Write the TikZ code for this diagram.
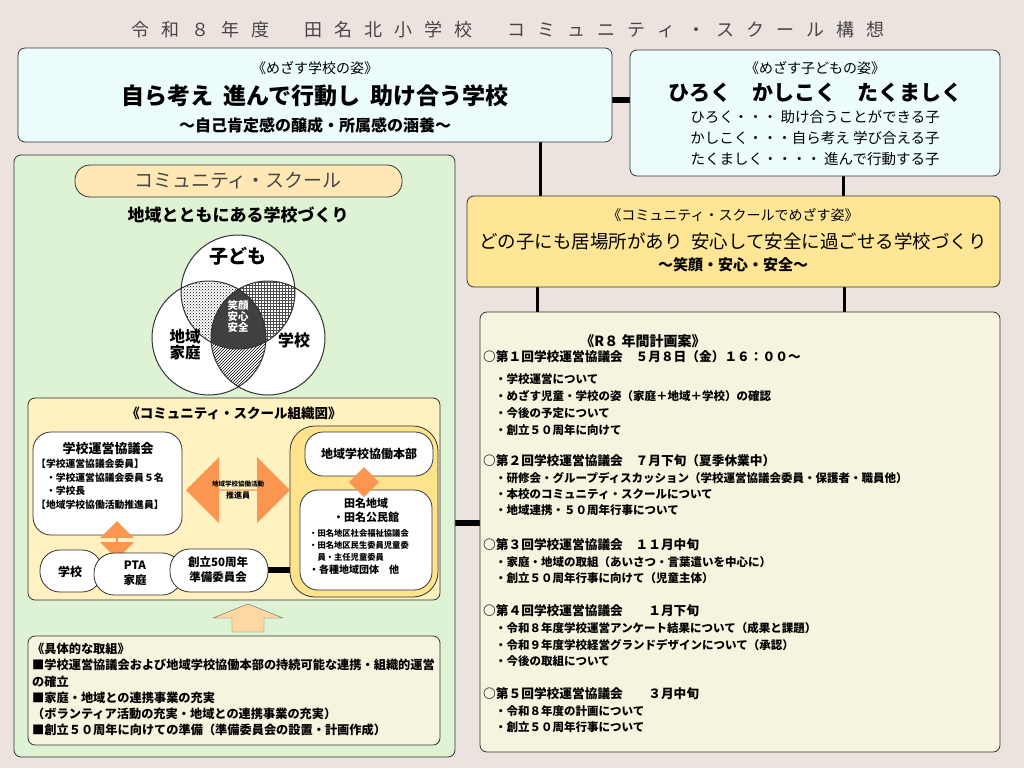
\documentclass[tikz,border=0pt]{standalone}
\usepackage{fontspec}
\setmainfont{Noto Sans CJK JP}
\usetikzlibrary{patterns,shapes.arrows,calc}
\definecolor{BackClr}{RGB}{236,226,222}
\definecolor{CyanClr}{RGB}{236,252,252}
\definecolor{GoldClr}{RGB}{255,230,150}
\definecolor{CreamClr}{RGB}{246,244,222}
\definecolor{GreenClr}{RGB}{222,242,212}
\definecolor{PillClr}{RGB}{255,232,182}
\definecolor{OrgClr}{RGB}{255,241,192}
\definecolor{DeepClr}{RGB}{255,226,140}
\definecolor{ArrowClr}{RGB}{250,150,80}
\definecolor{TitleClr}{RGB}{70,70,70}
\newcommand{\tgap}{\hspace{0.66em}}
\tikzset{
  panel/.style={draw=black!80,line width=0.8pt,rounded corners=7pt},
  bubble/.style={draw=black!80,line width=0.8pt,fill=white,rounded corners=18pt},
  link/.style={line width=3pt},
  bar/.style={line width=6pt},
  planline/.style={anchor=west,font=\bfseries\fontsize{11.5}{13}\selectfont,inner sep=0pt},
}
\begin{document}
\begin{tikzpicture}[x=1pt,y=-1pt]
\fill[BackClr] (0,0) rectangle (1024,768);

% title
\node[font=\fontsize{18}{20}\selectfont,text=TitleClr] (title) at (508,30) {令\tgap 和\tgap ８\tgap 年\tgap 度\tgap\tgap\tgap 田\tgap 名\tgap 北\tgap 小\tgap 学\tgap 校\tgap\tgap\tgap コ\tgap ミ\tgap ュ\tgap ニ\tgap テ\tgap ィ\tgap ・\tgap ス\tgap ク\tgap ー\tgap ル\tgap 構\tgap 想};

% connectors
\draw[bar] (612,100) -- (630,100);
\draw[link] (540,142) -- (540,196);
\draw[link] (843,176) -- (843,196);
\draw[link] (537,287) -- (537,312);
\draw[link] (844,287) -- (844,312);
\draw[bar] (455,523) -- (480,523);

% school goal
\draw[panel,fill=CyanClr] (18,48) rectangle (612,142);
\node[font=\fontsize{14}{16}\selectfont] at (315,68) {《めざす学校の姿》};
\node[font=\bfseries\fontsize{23}{26}\selectfont] at (315,96) {自ら考え\ \ 進んで行動し\ \ 助け合う学校};
\node[font=\bfseries\fontsize{16}{18}\selectfont] at (315,125) {～自己肯定感の醸成・所属感の涵養～};

% child goal
\draw[panel,fill=CyanClr] (630,50) rectangle (1000,176);
\node[font=\fontsize{14}{16}\selectfont] at (815,68) {《めざす子どもの姿》};
\node[font=\bfseries\fontsize{21}{24}\selectfont] at (815,93) {ひろく　かしこく　たくましく};
\node[font=\fontsize{14.5}{16}\selectfont] at (815,117) {ひろく・・・ 助け合うことができる子};
\node[font=\fontsize{14.5}{16}\selectfont] at (815,138) {かしこく・・・自ら考え 学び合える子};
\node[font=\fontsize{14.5}{16}\selectfont] at (815,159) {たくましく・・・・ 進んで行動する子};

% community school goal
\draw[panel,fill=GoldClr] (467,196) rectangle (1000,287);
\node[font=\fontsize{14}{16}\selectfont] at (733,215) {《コミュニティ・スクールでめざす姿》};
\node[font=\fontsize{18.5}{21}\selectfont] at (733,241) {どの子にも居場所があり\ \ 安心して安全に過ごせる学校づくり};
\node[font=\bfseries\fontsize{15}{17}\selectfont] at (733,265) {～笑顔・安心・安全～};

% annual plan
\draw[panel,fill=CreamClr] (480,312) rectangle (1000,752);
\node[font=\bfseries\fontsize{14}{16}\selectfont] at (643,341) {《R８ 年間計画案》};
\foreach \y/\t in {357/○第１回学校運営協議会　５月８日（金）１６：００～,
  461/○第２回学校運営協議会　７月下旬（夏季休業中）,
  545/○第３回学校運営協議会　１１月中旬,
  611/○第４回学校運営協議会　　１月下旬,
  694/○第５回学校運営協議会　　３月中旬}
  \node[planline,font=\bfseries\fontsize{12.7}{14}\selectfont] at (483,\y) {\t};
\foreach \y/\t in {379/・学校運営について, 396/・めざす児童・学校の姿（家庭＋地域＋学校）の確認,
  413/・今後の予定について, 430/・創立５０周年に向けて,
  478/・研修会・グループディスカッション（学校運営協議会委員・保護者・職員他）,
  494/・本校のコミュニティ・スクールについて, 510/・地域連携・５０周年行事について,
  562/・家庭・地域の取組（あいさつ・言葉遣いを中心に）, 578/・創立５０周年行事に向けて（児童主体）,
  628/・令和８年度学校運営アンケート結果について（成果と課題）,
  645/・令和９年度学校経営グランドデザインについて（承認）, 661/・今後の取組について,
  711/・令和８年度の計画について, 727/・創立５０周年行事について}
  \node[planline] at (495,\y) {\t};

% left panel
\draw[panel,fill=GreenClr] (14,155) rectangle (455,757);
\draw[draw=black!80,line width=0.8pt,fill=PillClr,rounded corners=15pt] (75,165) rectangle (402,197);
\node[font=\fontsize{19}{21}\selectfont,text=TitleClr] at (238,181) {コミュニティ・スクール};
\node[font=\bfseries\fontsize{17}{19}\selectfont] at (238,215) {地域とともにある学校づくり};

% venn
\coordinate (ctop) at (238,292);
\coordinate (cleft) at (209,338);
\coordinate (cright) at (268,338);
\fill[white] (ctop) circle (57) (cleft) circle (57) (cright) circle (57);
\begin{scope}
  \clip (ctop) circle (57);
  \fill[pattern=crosshatch dots] (cleft) circle (57);
  \fill[pattern=grid,pattern color=black!70] (cright) circle (57);
\end{scope}
\begin{scope}
  \clip (cleft) circle (57);
  \fill[pattern=north east lines] (cright) circle (57);
  \clip (cright) circle (57);
  \fill[black!75] (ctop) circle (57);
\end{scope}
\draw[line width=1pt,black!80] (ctop) circle (57) (cleft) circle (57) (cright) circle (57);
\node[font=\bfseries\fontsize{19}{21}\selectfont] at (238,256) {子ども};
\node[align=center,font=\bfseries\fontsize{15.5}{16}\selectfont] at (185,345) {地域\\家庭};
\node[font=\bfseries\fontsize{16}{18}\selectfont] at (294,340) {学校};
\node[align=center,text=white,font=\bfseries\fontsize{10.5}{11}\selectfont] at (238,316) {笑顔\\安心\\安全};

% organisation chart
\draw[panel,fill=OrgClr] (28,398) rectangle (440,600);
\node[font=\bfseries\fontsize{13.5}{15}\selectfont] at (234,413) {《コミュニティ・スクール組織図》};
\draw[draw=black!80,line width=0.8pt,fill=DeepClr,rounded corners=25pt] (290,426) rectangle (438,597);
\draw[bubble] (305,432) rectangle (433,476);
\node[font=\bfseries\fontsize{12}{14}\selectfont] (honbu) at (369,454) {地域学校協働本部};
\draw[bubble] (300,490) rectangle (432,590);
\node[align=center,font=\bfseries\fontsize{11}{14}\selectfont] (tana) at (366,510) {田名地域\\・田名公民館};
\node[align=left,anchor=north west,inner sep=0pt,font=\bfseries\fontsize{8.3}{12.3}\selectfont] at (309,529) {・田名地区社会福祉協議会\\・田名地区民生委員児童委\\　員・主任児童委員\\\fontsize{10}{12}\selectfont ・各種地域団体　他};
\draw[bubble] (33,432) rectangle (182,535);
\node[font=\bfseries\fontsize{13}{15}\selectfont] (kyogi) at (108,449) {学校運営協議会};
\node[align=left,anchor=north west,inner sep=0pt,font=\bfseries\fontsize{9.8}{13.5}\selectfont] at (36,459) {【学校運営協議会委員】\\　・学校運営協議会委員５名\\　・学校長\\【地域学校協働活動推進員】};
% arrows
\node[double arrow,fill=ArrowClr,minimum width=66pt,minimum height=104pt,double arrow head extend=10pt,inner sep=0pt] (suishin) at (238,490) {};
\node[align=center,font=\bfseries\fontsize{6.5}{12}\selectfont] at (238,490) {地域学校協働活動\\\fontsize{8}{10}\selectfont 推進員};
\node[double arrow,shape border rotate=90,fill=ArrowClr,minimum width=34pt,minimum height=38pt,double arrow head extend=4pt,inner sep=0pt] at (117,540) {};
\node[double arrow,shape border rotate=90,fill=ArrowClr,minimum width=30pt,minimum height=30pt,double arrow head extend=4pt,inner sep=0pt] at (364,482) {};
% bottom bubbles
\draw[bar] (268,570) -- (290,570);
\draw[bubble,rounded corners=20pt] (40,550) rectangle (102,592);
\node[font=\bfseries\fontsize{12}{14}\selectfont] (gakko) at (70,572) {学校};
\draw[bubble,rounded corners=20pt] (94,553) rectangle (182,595);
\node[align=center,font=\bfseries\fontsize{11.5}{15}\selectfont] (pta) at (135,573) {PTA\\家庭};
\draw[bubble,rounded corners=20pt] (170,549) rectangle (268,592);
\node[align=center,font=\bfseries\fontsize{11.5}{15}\selectfont] (junbi) at (218,570) {創立50周年\\準備委員会};
\draw[black!60,fill=PillClr!80!ArrowClr] (248,604) -- (283,618) -- (264,618) -- (264,632) -- (232,632) -- (232,618) -- (213,618) -- cycle;

% concrete actions
\draw[panel,fill=CreamClr] (28,636) rectangle (440,745);
\node[align=left,anchor=north west,inner sep=0pt,font=\bfseries\fontsize{12.2}{16.2}\selectfont] at (32,643) {《具体的な取組》\\■学校運営協議会および地域学校協働本部の持続可能な連携・組織的運営\\の確立\\■家庭・地域との連携事業の充実\\（ボランティア活動の充実・地域との連携事業の充実）\\■創立５０周年に向けての準備（準備委員会の設置・計画作成）};
\end{tikzpicture}
\end{document}
